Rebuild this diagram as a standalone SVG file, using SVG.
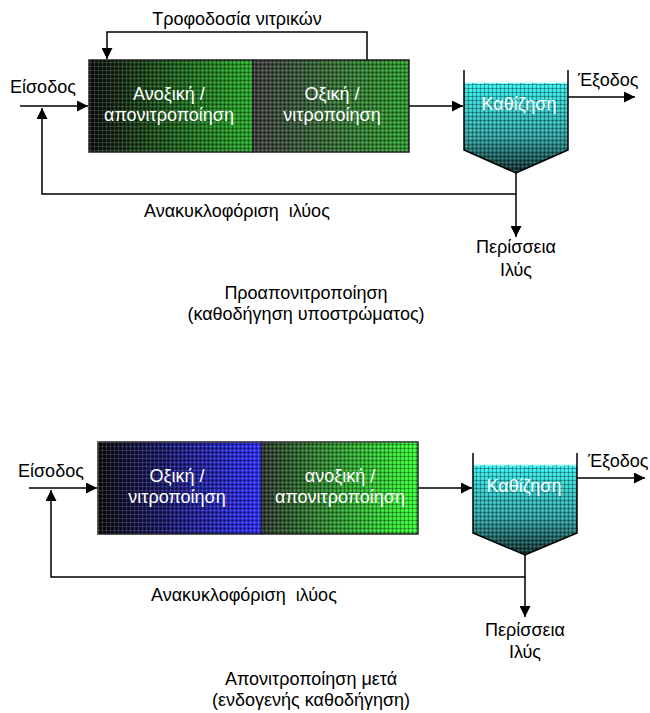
<svg xmlns="http://www.w3.org/2000/svg" width="650" height="713" viewBox="0 0 650 713">
<defs>
<style>
text{font-family:"Liberation Sans",Arial,sans-serif;font-size:18px;fill:#000}
.w{fill:#fff}
.c{text-anchor:middle}
.pre{white-space:pre}
.ln{fill:none;stroke:#000;stroke-width:1.5}
.box{stroke:#222;stroke-width:1.5}
</style>
<marker id="ar" viewBox="0 0 10 10" refX="10" refY="5" markerWidth="11" markerHeight="11" markerUnits="userSpaceOnUse" orient="auto"><path d="M0,0L10,5L0,10Z" fill="#000"/></marker>
<pattern id="grid" width="4" height="4" patternUnits="userSpaceOnUse">
<rect x="0" y="0" width="1" height="4" fill="#000" fill-opacity="0.3"/>
<rect x="0" y="0" width="4" height="1" fill="#000" fill-opacity="0.3"/>
<rect x="2" y="0" width="1" height="4" fill="#fff" fill-opacity="0.12"/>
<rect x="0" y="2" width="4" height="1" fill="#fff" fill-opacity="0.12"/>
</pattern>
<linearGradient id="g1" x1="0" x2="1" y1="0" y2="0"><stop offset="0" stop-color="#0d0d0d"/><stop offset="1" stop-color="#22aa22"/></linearGradient>
<linearGradient id="g2" x1="0" x2="1" y1="0" y2="0"><stop offset="0" stop-color="#3a3a3a"/><stop offset="1" stop-color="#2a9e2a"/></linearGradient>
<linearGradient id="g3" x1="0" x2="1" y1="0" y2="0"><stop offset="0" stop-color="#0a0a0a"/><stop offset="1" stop-color="#2a2aff"/></linearGradient>
<linearGradient id="g4" x1="0" x2="1" y1="0" y2="0"><stop offset="0" stop-color="#2a3a2a"/><stop offset="1" stop-color="#30ff30"/></linearGradient>
<linearGradient id="gc" x1="0" x2="0" y1="0" y2="1"><stop offset="0" stop-color="#30eeee"/><stop offset="0.6" stop-color="#2aa0a0"/><stop offset="1" stop-color="#0a2a2a"/></linearGradient>
</defs>

<g id="connectors">
<path class="ln" d="M367,60V32H107V59" marker-end="url(#ar)"/>
<path class="ln" d="M20,106H88" marker-end="url(#ar)"/>
<path class="ln" d="M516,173V194H42V108" marker-end="url(#ar)"/>
<path class="ln" d="M516,194V237" marker-end="url(#ar)"/>
<path class="ln" d="M409,106H463" marker-end="url(#ar)"/>
<path class="ln" d="M568,97H635" marker-end="url(#ar)"/>
<path class="ln" d="M29,488H97" marker-end="url(#ar)"/>
<path class="ln" d="M525,555V577H51V490" marker-end="url(#ar)"/>
<path class="ln" d="M525,577V617" marker-end="url(#ar)"/>
<path class="ln" d="M418,488H472" marker-end="url(#ar)"/>
<path class="ln" d="M577,478H645" marker-end="url(#ar)"/>
</g>

<g id="anoxic1">
<rect class="box" x="89" y="60" width="164" height="92" fill="url(#g1)"/>
<rect x="89" y="60" width="164" height="92" fill="url(#grid)"/>
<text class="w c" x="169" y="100">Ανοξική /</text>
<text class="w c" x="169" y="121">απονιτροποίηση</text>
</g>
<g id="oxic1">
<rect class="box" x="253" y="60" width="156" height="92" fill="url(#g2)"/>
<rect x="253" y="60" width="156" height="92" fill="url(#grid)"/>
<text class="w c" x="332" y="100">Οξική /</text>
<text class="w c" x="332" y="121">νιτροποίηση</text>
</g>
<g id="clarifier1">
<path d="M464,83H568V150L516,173L464,150Z" fill="url(#gc)"/>
<path d="M464,83H568V150L516,173L464,150Z" fill="url(#grid)"/>
<path d="M464,83H568" stroke="#bff" stroke-width="1.5" stroke-dasharray="8,4" fill="none"/>
<path class="ln" d="M464,70V150L516,173L568,150V70"/>
<text class="w c" x="519" y="110">Καθίζηση</text>
</g>

<g id="oxic2">
<rect class="box" x="98" y="442" width="164" height="92" fill="url(#g3)"/>
<rect x="98" y="442" width="164" height="92" fill="url(#grid)"/>
<text class="w c" x="177" y="482">Οξική /</text>
<text class="w c" x="177" y="503">νιτροποίηση</text>
</g>
<g id="anoxic2">
<rect class="box" x="262" y="442" width="156" height="92" fill="url(#g4)"/>
<rect x="262" y="442" width="156" height="92" fill="url(#grid)"/>
<text class="w c" x="340" y="482">ανοξική /</text>
<text class="w c" x="340" y="503">απονιτροποίηση</text>
</g>
<g id="clarifier2">
<path d="M473,465H577V533L525,555L473,533Z" fill="url(#gc)"/>
<path d="M473,465H577V533L525,555L473,533Z" fill="url(#grid)"/>
<path d="M473,465H577" stroke="#bff" stroke-width="1.5" stroke-dasharray="8,4" fill="none"/>
<path class="ln" d="M473,453V533L525,555L577,533V453"/>
<text class="w c" x="524" y="492">Καθίζηση</text>
</g>

<g id="labels">
<text class="c" x="237" y="25">Τροφοδοσία νιτρικών</text>
<text x="10" y="93">Είσοδος</text>
<text x="578" y="86">Έξοδος</text>
<text class="pre" x="144" y="217">Ανακυκλοφόριση  ιλύος</text>
<text class="c" x="516" y="253">Περίσσεια</text>
<text class="c" x="516" y="276">Ιλύς</text>
<text class="c" x="306" y="299">Προαπονιτροποίηση</text>
<text class="c" x="306" y="320">(καθοδήγηση υποστρώματος)</text>

<text x="18" y="477">Είσοδος</text>
<text x="588" y="467">Έξοδος</text>
<text class="pre" x="151" y="601">Ανακυκλοφόριση  ιλύος</text>
<text class="c" x="525" y="636">Περίσσεια</text>
<text class="c" x="525" y="658">Ιλύς</text>
<text class="c" x="311" y="685">Απονιτροποίηση μετά</text>
<text class="c" x="311" y="706">(ενδογενής καθοδήγηση)</text>
</g>
</svg>
